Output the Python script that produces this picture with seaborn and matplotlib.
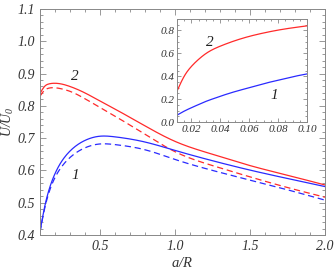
import matplotlib
matplotlib.use("Agg")
import matplotlib.pyplot as plt
from matplotlib.ticker import MultipleLocator
import seaborn as sns
import numpy as np
import pandas as pd

# main panel data
x_main = [0.1, 0.13, 0.16, 0.2, 0.25, 0.3, 0.4, 0.5, 0.6, 0.8, 1.0, 1.25, 1.5, 1.75, 2.0]
red_solid = [0.838, 0.860, 0.868, 0.870, 0.867, 0.860, 0.840, 0.815, 0.790, 0.738, 0.690, 0.650, 0.615, 0.585, 0.555]
red_dashed = [0.830, 0.848, 0.855, 0.856, 0.852, 0.845, 0.822, 0.795, 0.768, 0.712, 0.658, 0.615, 0.580, 0.547, 0.517]
blue_solid = [0.410, 0.485, 0.540, 0.590, 0.632, 0.660, 0.693, 0.706, 0.704, 0.688, 0.662, 0.630, 0.601, 0.575, 0.550]
blue_dashed = [0.410, 0.480, 0.532, 0.578, 0.615, 0.640, 0.670, 0.682, 0.680, 0.664, 0.634, 0.600, 0.570, 0.540, 0.508]

# inset data
x_ins = [0.01, 0.015, 0.02, 0.025, 0.03, 0.035, 0.04, 0.05, 0.06, 0.07, 0.08, 0.09, 0.10]
red_ins = [0.27, 0.40, 0.486, 0.548, 0.598, 0.635, 0.663, 0.71, 0.748, 0.778, 0.803, 0.823, 0.84]
blue_ins = [0.06, 0.095, 0.125, 0.153, 0.18, 0.203, 0.225, 0.265, 0.30, 0.335, 0.365, 0.395, 0.42]

sns.set_style("ticks")
plt.rcParams['font.family'] = ['Liberation Serif', 'DejaVu Serif']
plt.rcParams['font.style'] = 'italic'
plt.rcParams['mathtext.fontset'] = 'custom'
plt.rcParams['mathtext.it'] = 'Liberation Serif:italic'
plt.rcParams['mathtext.rm'] = 'Liberation Serif:italic'

fig = plt.figure(figsize=(3.34, 2.75), dpi=100)
ax = fig.add_axes([40/334, 1 - 235/275, 285/334, 226/275])


def smooth(xs, ys, n=300):
    """natural cubic spline through the read points"""
    xs = np.asarray(xs, float); ys = np.asarray(ys, float)
    N = len(xs)
    h = np.diff(xs)
    A = np.zeros((N, N)); r = np.zeros(N)
    A[0, 0] = 1; A[-1, -1] = 1
    for i in range(1, N - 1):
        A[i, i - 1] = h[i - 1]
        A[i, i] = 2 * (h[i - 1] + h[i])
        A[i, i + 1] = h[i]
        r[i] = 3 * ((ys[i + 1] - ys[i]) / h[i] - (ys[i] - ys[i - 1]) / h[i - 1])
    c = np.linalg.solve(A, r)
    b = (ys[1:] - ys[:-1]) / h - h * (2 * c[:-1] + c[1:]) / 3
    d = (c[1:] - c[:-1]) / (3 * h)
    xx = np.linspace(xs[0], xs[-1], n)
    idx = np.clip(np.searchsorted(xs, xx) - 1, 0, N - 2)
    t = xx - xs[idx]
    yy = ys[idx] + b[idx] * t + c[idx] * t**2 + d[idx] * t**3
    return xx, yy


red = '#ff2a2a'
blue = '#2a2aff'
for ys, c, ls in [(red_solid, red, '-'), (red_dashed, red, (0, (5, 3))),
                  (blue_solid, blue, '-'), (blue_dashed, blue, (0, (5, 3)))]:
    xx, yy = smooth(x_main, ys)
    df = pd.DataFrame({'x': xx, 'y': yy})
    sns.lineplot(data=df, x='x', y='y', ax=ax, color=c, lw=0.9, linestyle=ls)

ax.set_xlim(0.1, 2.0)
ax.set_ylim(0.4, 1.1)
ax.xaxis.set_major_locator(MultipleLocator(0.5))
ax.xaxis.set_minor_locator(MultipleLocator(0.1))
ax.yaxis.set_major_locator(MultipleLocator(0.1))
ax.yaxis.set_minor_locator(MultipleLocator(0.02))
ax.tick_params(which='both', direction='in', top=True, right=True, colors='#888888',
               labelcolor='#333333', labelsize=10, width=0.6)
ax.tick_params(which='major', length=4)
ax.tick_params(which='minor', length=2)
for s in ax.spines.values():
    s.set_color('#888888'); s.set_linewidth(0.7)
ax.set_xlabel('$a/R$', fontsize=10.5, color='#333333', labelpad=2)
ax.set_ylabel('$U/U_0$', fontsize=10, color='#333333')
ax.yaxis.set_label_coords(-0.083, 0.5)
ax.text(0.333, 0.892, '2', fontsize=11, color='#222222', ha='center', va='center')
ax.text(0.333, 0.583, '1', fontsize=11, color='#222222', ha='center', va='center')

# inset
ins = fig.add_axes([177/334, 1 - 122/275, 130/334, 103/275])
for ys, c in [(red_ins, red), (blue_ins, blue)]:
    xx, yy = smooth(x_ins, ys)
    df = pd.DataFrame({'x': xx, 'y': yy})
    sns.lineplot(data=df, x='x', y='y', ax=ins, color=c, lw=0.9)
ins.set_xlim(0.01, 0.10)
ins.set_ylim(0.0, 0.9)
ins.xaxis.set_minor_locator(MultipleLocator(0.005))
ins.yaxis.set_minor_locator(MultipleLocator(0.05))
ins.set_xticks([0.02, 0.04, 0.06, 0.08, 0.10])
ins.set_xticklabels(['0.02', '0.04', '0.06', '0.08', '0.10'])
ins.set_yticks([0.0, 0.2, 0.4, 0.6, 0.8])
ins.set_yticklabels(['0.0', '0.2', '0.4', '0.6', '0.8'])
ins.tick_params(which='both', direction='in', top=True, right=True, colors='#888888',
                labelcolor='#333333', labelsize=8, width=0.6, pad=2)
ins.tick_params(which='major', length=3)
ins.tick_params(which='minor', length=1.5)
for s in ins.spines.values():
    s.set_color('#888888'); s.set_linewidth(0.7)
ins.set_xlabel(''); ins.set_ylabel('')
ins.text(0.033, 0.695, '2', fontsize=11, color='#222222', ha='center', va='center')
ins.text(0.0774, 0.229, '1', fontsize=11, color='#222222', ha='center', va='center')

fig.savefig('out.png', dpi=100)
